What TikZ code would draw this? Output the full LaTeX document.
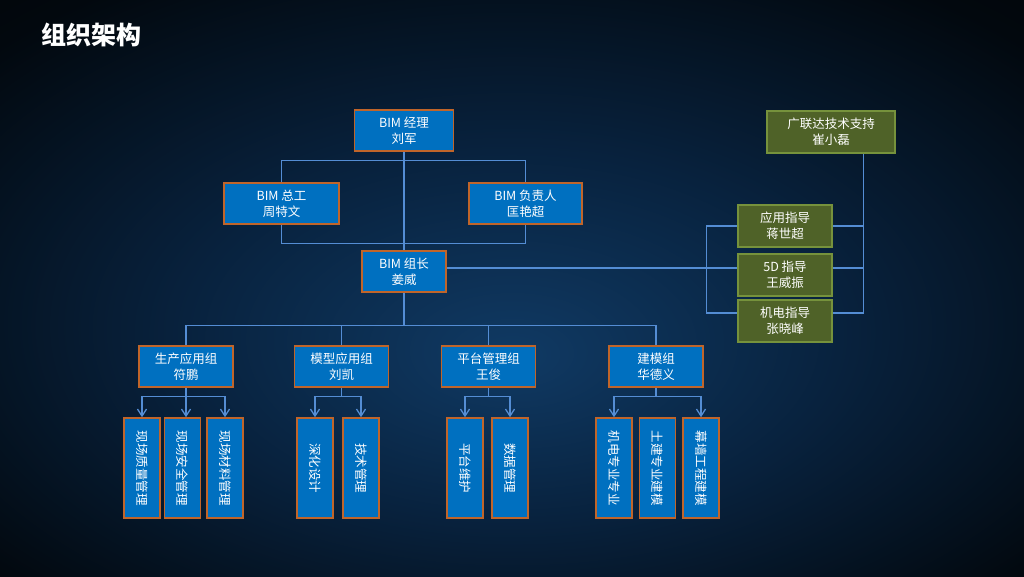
\documentclass[tikz,border=0pt]{standalone}
\usepackage{fontspec}
\setmainfont{Noto Sans CJK SC}
\usepackage{graphicx}
\usetikzlibrary{arrows.meta}

\definecolor{boxblue}{HTML}{0070C0}
\definecolor{boxedge}{HTML}{C0652A}
\definecolor{olivebox}{HTML}{4F6228}
\definecolor{oliveedge}{HTML}{76923C}
\definecolor{linkblue}{HTML}{548DD4}
\definecolor{glowin}{RGB}{16,58,100}
\definecolor{glowmid}{RGB}{8,34,62}
\definecolor{glowout}{RGB}{2,8,14}
\pgfdeclareradialshading{bgglow}{\pgfpoint{0bp}{-6bp}}{color(0bp)=(glowin); color(16bp)=(glowmid); color(34bp)=(glowout); color(50bp)=(black)}

\pgfdeclarelayer{backdrop}
\pgfdeclarelayer{wires}
\pgfsetlayers{backdrop,wires,main}

\tikzset{
  role/.style={draw=boxedge, fill=boxblue, line width=1.5pt, text=white, align=center,
    minimum width=99pt, minimum height=41pt, inner sep=0pt, font=\fontsize{12.5}{16}\selectfont},
  guide/.style={role, draw=oliveedge, fill=olivebox, minimum width=94pt, minimum height=42pt},
  task/.style={role, minimum width=36pt, minimum height=100pt},
  link/.style={draw=linkblue, line width=1.3pt},
  arr/.style={link, -{Straight Barb[length=7pt,width=9pt]}}
}

\begin{document}
\begin{tikzpicture}[x=1pt,y=-1pt]
    \useasboundingbox (0,0) rectangle (1024,576);
    \begin{pgfonlayer}{backdrop}
        \shade[shading=bgglow] (0,0) rectangle (1024,576);
    \end{pgfonlayer}

    \node[anchor=west, text=white, font=\fontsize{25}{30}\selectfont\bfseries] (title) at (38,35) {组织架构};

    % management
    \node[role] (mgr) at (404,130.5) {BIM 经理\\刘军};
    \node[role, minimum width=115pt] (zonggong) at (281.5,203.5) {BIM 总工\\周特文};
    \node[role, minimum width=113pt] (fuzeren) at (525.5,203.5) {BIM 负责人\\匡艳超};
    \node[role, minimum width=84pt] (zuzhang) at (404,271.5) {BIM 组长\\姜威};

    % support
    \node[guide, minimum width=128pt] (glds) at (831,132) {广联达技术支持\\崔小磊};
    \node[guide] (yyzd) at (785,226) {应用指导\\蒋世超};
    \node[guide] (wdzd) at (785,275) {5D 指导\\王威振};
    \node[guide] (jdzd) at (785,321) {机电指导\\张晓峰};

    % groups
    \node[role, minimum width=94pt] (g1) at (186,366.5) {生产应用组\\符鹏};
    \node[role, minimum width=94pt] (g2) at (341.5,366.5) {模型应用组\\刘凯};
    \node[role, minimum width=94pt] (g3) at (488.5,366.5) {平台管理组\\王俊};
    \node[role, minimum width=94pt] (g4) at (656,366.5) {建模组\\华德义};

    % tasks
    \node[task] (t11) at (142,468) {\rotatebox{-90}{现场质量管理}};
    \node[task] (t12) at (182.5,468) {\rotatebox{-90}{现场安全管理}};
    \node[task] (t13) at (225,468) {\rotatebox{-90}{现场材料管理}};
    \node[task] (t21) at (315,468) {\rotatebox{-90}{深化设计}};
    \node[task] (t22) at (361,468) {\rotatebox{-90}{技术管理}};
    \node[task] (t31) at (465,468) {\rotatebox{-90}{平台维护}};
    \node[task] (t32) at (510,468) {\rotatebox{-90}{数据管理}};
    \node[task] (t41) at (614,468) {\rotatebox{-90}{机电专业专业}};
    \node[task] (t42) at (657.5,468) {\rotatebox{-90}{土建专业建模}};
    \node[task] (t43) at (701,468) {\rotatebox{-90}{幕墙工程建模}};

    \coordinate (zzr) at ([yshift=3.5pt]zuzhang.east);
    \coordinate (wdl) at ([yshift=7pt]wdzd.west);
    \coordinate (wdr) at ([yshift=7pt]wdzd.east);
    \coordinate (jdl) at ([yshift=8pt]jdzd.west);
    \coordinate (jdr) at ([yshift=8pt]jdzd.east);
    \coordinate (lb) at ([xshift=-31pt]yyzd.west);
    \coordinate (rb) at ([xshift=-32pt]glds.south east);
    \coordinate (bus) at ([yshift=-33pt]zuzhang.south);

    \begin{pgfonlayer}{wires}
        \draw[link] (mgr) -- (zuzhang);
        \draw[link] (zonggong.north) -- ++(0,-22) -| (fuzeren.north);
        \draw[link] (zonggong.south) -- ++(0,19) -| (fuzeren.south);

        \draw[link] (zzr) -- (wdl);
        \draw[link] (yyzd.west) -- (lb) |- (jdl);
        \draw[link] (rb) |- (jdr);
        \draw[link] (yyzd.east) -- (yyzd.east -| rb);
        \draw[link] (wdr) -- (wdr -| rb);

        \draw[link] (zuzhang.south) -- (bus);
        \draw[link] (g1.north) |- (bus) -| (g4.north);
        \draw[link] (g2.north) -- (g2.north |- bus);
        \draw[link] (g3.north) -- (g3.north |- bus);

        \draw[link] (g1.south) -- ++(0,9) coordinate (b1);
        \draw[arr] (b1) -| (t11.north);
        \draw[arr] (b1) -- (b1 |- t12.north);
        \draw[arr] (b1) -| (t13.north);
        \draw[link] (g2.south) -- ++(0,9) coordinate (b2);
        \draw[arr] (b2) -| (t21.north);
        \draw[arr] (b2) -| (t22.north);
        \draw[link] (g3.south) -- ++(0,9) coordinate (b3);
        \draw[arr] (b3) -| (t31.north);
        \draw[arr] (b3) -| (t32.north);
        \draw[link] (g4.south) -- ++(0,9) coordinate (b4);
        \draw[arr] (b4) -| (t41.north);
        \draw[arr] (b4) -| (t43.north);
    \end{pgfonlayer}
\end{tikzpicture}
\end{document}
